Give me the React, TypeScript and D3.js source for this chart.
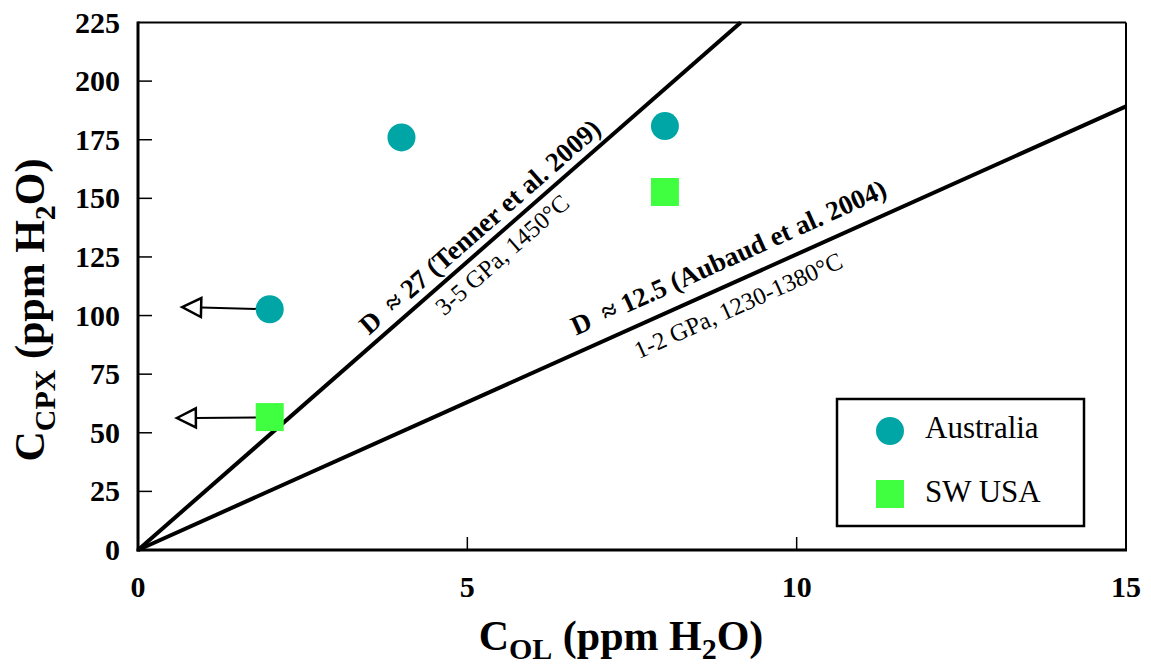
import React from "react";
import * as d3 from "d3";

// ---- data ----
const xDomain = [0, 15];
const yDomain = [0, 225];
const xTicks = [0, 5, 10, 15];
const yTicks = [0, 25, 50, 75, 100, 125, 150, 175, 200, 225];

const australiaX = [2, 4, 8];
const australiaY = [102.7, 176, 180.8];
const swusaX = [2, 8];
const swusaY = [56.7, 152.7];

// partition-coefficient reference lines (C_OL, C_CPX endpoints)
const tennerX = [0, 9.15];
const tennerY = [0, 225];
const aubaudX = [0, 15];
const aubaudY = [0, 189.2];

// upper-limit arrows (from -> to)
const arrowFromX = [2, 1.84];
const arrowFromY = [102.7, 56.5];
const arrowToX = [0.67, 0.59];
const arrowToY = [103.6, 56.3];

const tennerTitle = "D  \u2248 27 (Tenner et al. 2009)";
const tennerSub = "3-5 GPa, 1450\u00B0C";
const aubaudTitle = "D  \u2248 12.5 (Aubaud et al. 2004)";
const aubaudSub = "1-2 GPa, 1230-1380\u00B0C";

const legendLabels = ["Australia", "SW USA"];

const TEAL = "#00A6A6";
const GREEN = "#40FF40";
const FONT = "'Liberation Serif', 'Times New Roman', serif";

export default function App() {
  const W = 1151, H = 665;
  const x = d3.scaleLinear().domain(xDomain).range([138, 1126]);
  const y = d3.scaleLinear().domain(yDomain).range([550, 22.5]);

  const line = d3.line<[number, number]>().x(d => x(d[0])).y(d => y(d[1]));

  const lineLabel = (
    lx: number[], ly: number[], t: number, dy: number, text: string,
    size: number, bold: boolean, key: string
  ) => {
    const x0 = x(lx[0]), y0 = y(ly[0]), x1 = x(lx[1]), y1 = y(ly[1]);
    const px = x0 + (x1 - x0) * t, py = y0 + (y1 - y0) * t;
    const ang = (Math.atan2(y1 - y0, x1 - x0) * 180) / Math.PI;
    return (
      <text key={key} transform={`translate(${px},${py}) rotate(${ang})`} y={dy}
        textAnchor="middle" fontFamily={FONT} fontSize={size}
        fontWeight={bold ? "bold" : "normal"} style={{ whiteSpace: "pre" }}>
        {text}
      </text>
    );
  };

  const arrows = arrowFromX.map((fx, i) => {
    const sx = x(fx), sy = y(arrowFromY[i]);
    const tx = x(arrowToX[i]), ty = y(arrowToY[i]);
    const len = Math.hypot(tx - sx, ty - sy);
    const ux = (tx - sx) / len, uy = (ty - sy) / len;
    const headL = 19, headW = 9.5;
    const bx = tx - ux * headL, by = ty - uy * headL;
    const nx = -uy, ny = ux;
    const pts = [[tx, ty], [bx + nx * headW, by + ny * headW], [bx - nx * headW, by - ny * headW]];
    return (
      <g key={"arrow" + i}>
        <line x1={sx} y1={sy} x2={bx} y2={by} stroke="#000" strokeWidth={2} />
        <polygon points={pts.map(p => p.join(",")).join(" ")} fill="#fff" stroke="#000" strokeWidth={2.5} strokeLinejoin="miter" />
      </g>
    );
  });

  return (
    <svg width={W} height={H} style={{ position: "absolute", left: 0, top: 0, background: "#fff" }}>
      <rect x={0} y={0} width={W} height={H} fill="#fff" />
      {/* frame */}
      <line x1={x(0)} y1={y(225)} x2={x(15)} y2={y(225)} stroke="#000" strokeWidth={2} />
      <line x1={x(15)} y1={y(225)} x2={x(15)} y2={y(0)} stroke="#000" strokeWidth={2} />
      <line x1={x(0)} y1={y(225) - 1} x2={x(0)} y2={y(0) + 1.5} stroke="#000" strokeWidth={3} />
      <line x1={x(0) - 1.5} y1={y(0)} x2={x(15) + 1} y2={y(0)} stroke="#000" strokeWidth={3} />

      {/* y ticks */}
      {yTicks.map(v => (
        <g key={"yt" + v}>
          {v > 0 && v < 225 && <line x1={x(0)} x2={x(0) + 14} y1={y(v)} y2={y(v)} stroke="#000" strokeWidth={1.5} />}
          <text x={120} y={y(v) + 10} textAnchor="end" fontFamily={FONT} fontWeight="bold" fontSize={30}>{v}</text>
        </g>
      ))}
      {/* x ticks */}
      {xTicks.map(v => (
        <g key={"xt" + v}>
          {v > 0 && v < 15 && <line x1={x(v)} x2={x(v)} y1={y(0)} y2={y(0) - 13} stroke="#000" strokeWidth={1.5} />}
          <text x={x(v)} y={597} textAnchor="middle" fontFamily={FONT} fontWeight="bold" fontSize={30}>{v}</text>
        </g>
      ))}

      {/* reference lines */}
      <path d={line(tennerX.map((v, i) => [v, tennerY[i]]) as [number, number][]) || ""} stroke="#000" strokeWidth={4} fill="none" />
      <path d={line(aubaudX.map((v, i) => [v, aubaudY[i]]) as [number, number][]) || ""} stroke="#000" strokeWidth={4} fill="none" />

      {lineLabel(tennerX, tennerY, 0.587, -9, tennerTitle, 27, true, "tt")}
      {lineLabel(tennerX, tennerY, 0.585, 26, tennerSub, 24.5, false, "ts")}
      {lineLabel(aubaudX, aubaudY, 0.608, -16, aubaudTitle, 27, true, "at")}
      {lineLabel(aubaudX, aubaudY, 0.598, 31, aubaudSub, 24.5, false, "as")}

      {/* arrows */}
      {arrows}

      {/* data points */}
      {australiaX.map((v, i) => (
        <circle key={"au" + i} cx={x(v)} cy={y(australiaY[i])} r={14} fill={TEAL} />
      ))}
      {swusaX.map((v, i) => (
        <rect key={"sw" + i} x={x(v) - 14} y={y(swusaY[i]) - 14} width={28} height={28} fill={GREEN} />
      ))}

      {/* legend */}
      <rect x={837} y={399} width={247} height={127} fill="#fff" stroke="#000" strokeWidth={2.5} />
      <circle cx={890} cy={431} r={14} fill={TEAL} />
      <rect x={876} y={480} width={28} height={28} fill={GREEN} />
      <text x={925} y={438} fontFamily={FONT} fontSize={31}>{legendLabels[0]}</text>
      <text x={925} y={502} fontFamily={FONT} fontSize={31}>{legendLabels[1]}</text>

      {/* axis titles */}
      <text x={621} y={650} textAnchor="middle" fontFamily={FONT} fontWeight="bold" fontSize={42}>
        <tspan>C</tspan>
        <tspan fontSize={30} dy={9}>OL</tspan>
        <tspan dy={-9}> (ppm H</tspan>
        <tspan fontSize={30} dy={9}>2</tspan>
        <tspan dy={-9}>O)</tspan>
      </text>
      <text transform="translate(44,310) rotate(-90)" textAnchor="middle" fontFamily={FONT} fontWeight="bold" fontSize={42}>
        <tspan>C</tspan>
        <tspan fontSize={30} dy={11}>CPX</tspan>
        <tspan dy={-11}> (ppm H</tspan>
        <tspan fontSize={30} dy={11}>2</tspan>
        <tspan dy={-11}>O)</tspan>
      </text>
    </svg>
  );
}
